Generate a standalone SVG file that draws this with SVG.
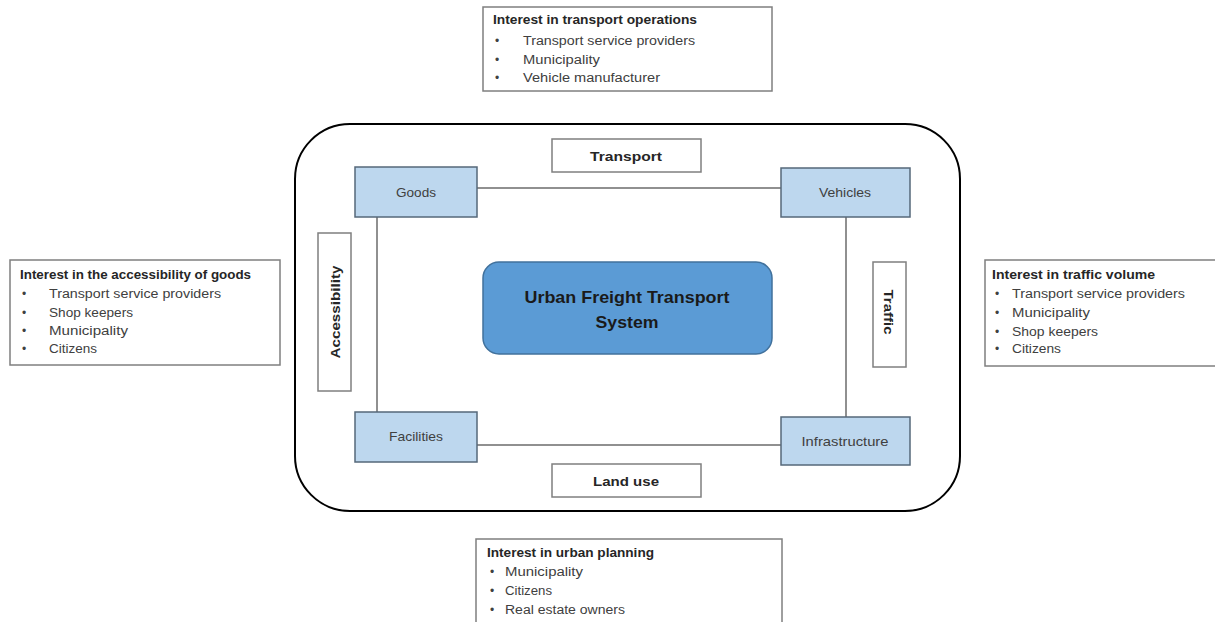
<svg xmlns="http://www.w3.org/2000/svg" width="1215" height="622" viewBox="0 0 1215 622">
<style>
text{font-family:"Liberation Sans",Arial,sans-serif;}
.ibox{fill:#fff;stroke:#7f7f7f;stroke-width:1.5;}
.hd{font-size:12px;font-weight:bold;fill:#262626;}
.it{font-size:12px;fill:#404040;}
.node{fill:#bdd7ee;stroke:#56687a;stroke-width:1.5;}
.nt{font-size:13px;fill:#404040;text-anchor:middle;}
.lbl{fill:#fff;stroke:#7f7f7f;stroke-width:1.5;}
.lt{font-size:13px;font-weight:bold;fill:#262626;text-anchor:middle;}
.conn line{stroke:#6b6b6b;stroke-width:1.5;}
</style>
<rect id="system-border" x="295" y="124" width="665" height="387" rx="55" fill="#fff" stroke="#000" stroke-width="2"/>
<g class="conn" id="connectors">
<line x1="477" y1="188" x2="781" y2="188"/>
<line x1="377" y1="217" x2="377" y2="412"/>
<line x1="846" y1="217" x2="846" y2="417"/>
<line x1="477" y1="445" x2="781" y2="445"/>
</g>
<g id="interest-transport">
<rect class="ibox" x="483" y="7" width="289" height="84"/>
<text class="hd" x="493" y="24" textLength="204" lengthAdjust="spacingAndGlyphs">Interest in transport operations</text>
<text class="it" x="495" y="45">•</text><text class="it" x="523" y="45" textLength="172" lengthAdjust="spacingAndGlyphs">Transport service providers</text>
<text class="it" x="495" y="64">•</text><text class="it" x="523" y="64" textLength="77" lengthAdjust="spacingAndGlyphs">Municipality</text>
<text class="it" x="495" y="82">•</text><text class="it" x="523" y="82" textLength="137" lengthAdjust="spacingAndGlyphs">Vehicle manufacturer</text>
</g>
<g id="interest-accessibility">
<rect class="ibox" x="10" y="260" width="270" height="105"/>
<text class="hd" x="20" y="279" textLength="231" lengthAdjust="spacingAndGlyphs">Interest in the accessibility of goods</text>
<text class="it" x="22" y="298">•</text><text class="it" x="49" y="298" textLength="172" lengthAdjust="spacingAndGlyphs">Transport service providers</text>
<text class="it" x="22" y="317">•</text><text class="it" x="49" y="317" textLength="84" lengthAdjust="spacingAndGlyphs">Shop keepers</text>
<text class="it" x="22" y="335">•</text><text class="it" x="49" y="335" textLength="79" lengthAdjust="spacingAndGlyphs">Municipality</text>
<text class="it" x="22" y="353">•</text><text class="it" x="49" y="353" textLength="48" lengthAdjust="spacingAndGlyphs">Citizens</text>
</g>
<g id="interest-traffic">
<rect class="ibox" x="985" y="260" width="240" height="106"/>
<text class="hd" x="992" y="279" textLength="163" lengthAdjust="spacingAndGlyphs">Interest in traffic volume</text>
<text class="it" x="995" y="298">•</text><text class="it" x="1012" y="298" textLength="173" lengthAdjust="spacingAndGlyphs">Transport service providers</text>
<text class="it" x="995" y="317">•</text><text class="it" x="1012" y="317" textLength="78" lengthAdjust="spacingAndGlyphs">Municipality</text>
<text class="it" x="995" y="336">•</text><text class="it" x="1012" y="336" textLength="86" lengthAdjust="spacingAndGlyphs">Shop keepers</text>
<text class="it" x="995" y="353">•</text><text class="it" x="1012" y="353" textLength="49" lengthAdjust="spacingAndGlyphs">Citizens</text>
</g>
<g id="interest-planning">
<rect class="ibox" x="476" y="539" width="306" height="100"/>
<text class="hd" x="487" y="557" textLength="167" lengthAdjust="spacingAndGlyphs">Interest in urban planning</text>
<text class="it" x="490" y="576">•</text><text class="it" x="505" y="576" textLength="78" lengthAdjust="spacingAndGlyphs">Municipality</text>
<text class="it" x="490" y="595">•</text><text class="it" x="505" y="595" textLength="47" lengthAdjust="spacingAndGlyphs">Citizens</text>
<text class="it" x="490" y="614">•</text><text class="it" x="505" y="614" textLength="120" lengthAdjust="spacingAndGlyphs">Real estate owners</text>
</g>
<g id="goods">
<rect class="node" x="355" y="167" width="122" height="50"/>
<text class="nt" x="416" y="197" textLength="40" lengthAdjust="spacingAndGlyphs">Goods</text>
</g>
<g id="vehicles">
<rect class="node" x="781" y="168" width="129" height="49"/>
<text class="nt" x="845" y="197" textLength="52" lengthAdjust="spacingAndGlyphs">Vehicles</text>
</g>
<g id="facilities">
<rect class="node" x="355" y="412" width="122" height="50"/>
<text class="nt" x="416" y="441" textLength="54" lengthAdjust="spacingAndGlyphs">Facilities</text>
</g>
<g id="infrastructure">
<rect class="node" x="781" y="417" width="129" height="48"/>
<text class="nt" x="845" y="446" textLength="87" lengthAdjust="spacingAndGlyphs">Infrastructure</text>
</g>
<g id="label-transport">
<rect class="lbl" x="552" y="139" width="149" height="33"/>
<text class="lt" x="626" y="161" textLength="72" lengthAdjust="spacingAndGlyphs">Transport</text>
</g>
<g id="label-landuse">
<rect class="lbl" x="552" y="464" width="149" height="33"/>
<text class="lt" x="626" y="486" textLength="66" lengthAdjust="spacingAndGlyphs">Land use</text>
</g>
<g id="label-accessibility">
<rect class="lbl" x="318" y="233" width="33" height="158"/>
<text class="lt" transform="translate(340,312) rotate(-90)" x="0" y="0" textLength="93" lengthAdjust="spacingAndGlyphs">Accessibility</text>
</g>
<g id="label-traffic">
<rect class="lbl" x="873" y="262" width="33" height="105"/>
<text class="lt" transform="translate(884,312) rotate(90)" x="0" y="0" textLength="45" lengthAdjust="spacingAndGlyphs">Traffic</text>
</g>
<g id="ufts">
<rect x="483" y="262" width="289" height="92" rx="16" fill="#5b9bd5" stroke="#41719c" stroke-width="1.5"/>
<text x="627" y="303" text-anchor="middle" font-size="17" font-weight="bold" fill="#1a1a1a" textLength="205" lengthAdjust="spacingAndGlyphs">Urban Freight Transport</text>
<text x="627" y="328" text-anchor="middle" font-size="17" font-weight="bold" fill="#1a1a1a" textLength="63" lengthAdjust="spacingAndGlyphs">System</text>
</g>
</svg>
